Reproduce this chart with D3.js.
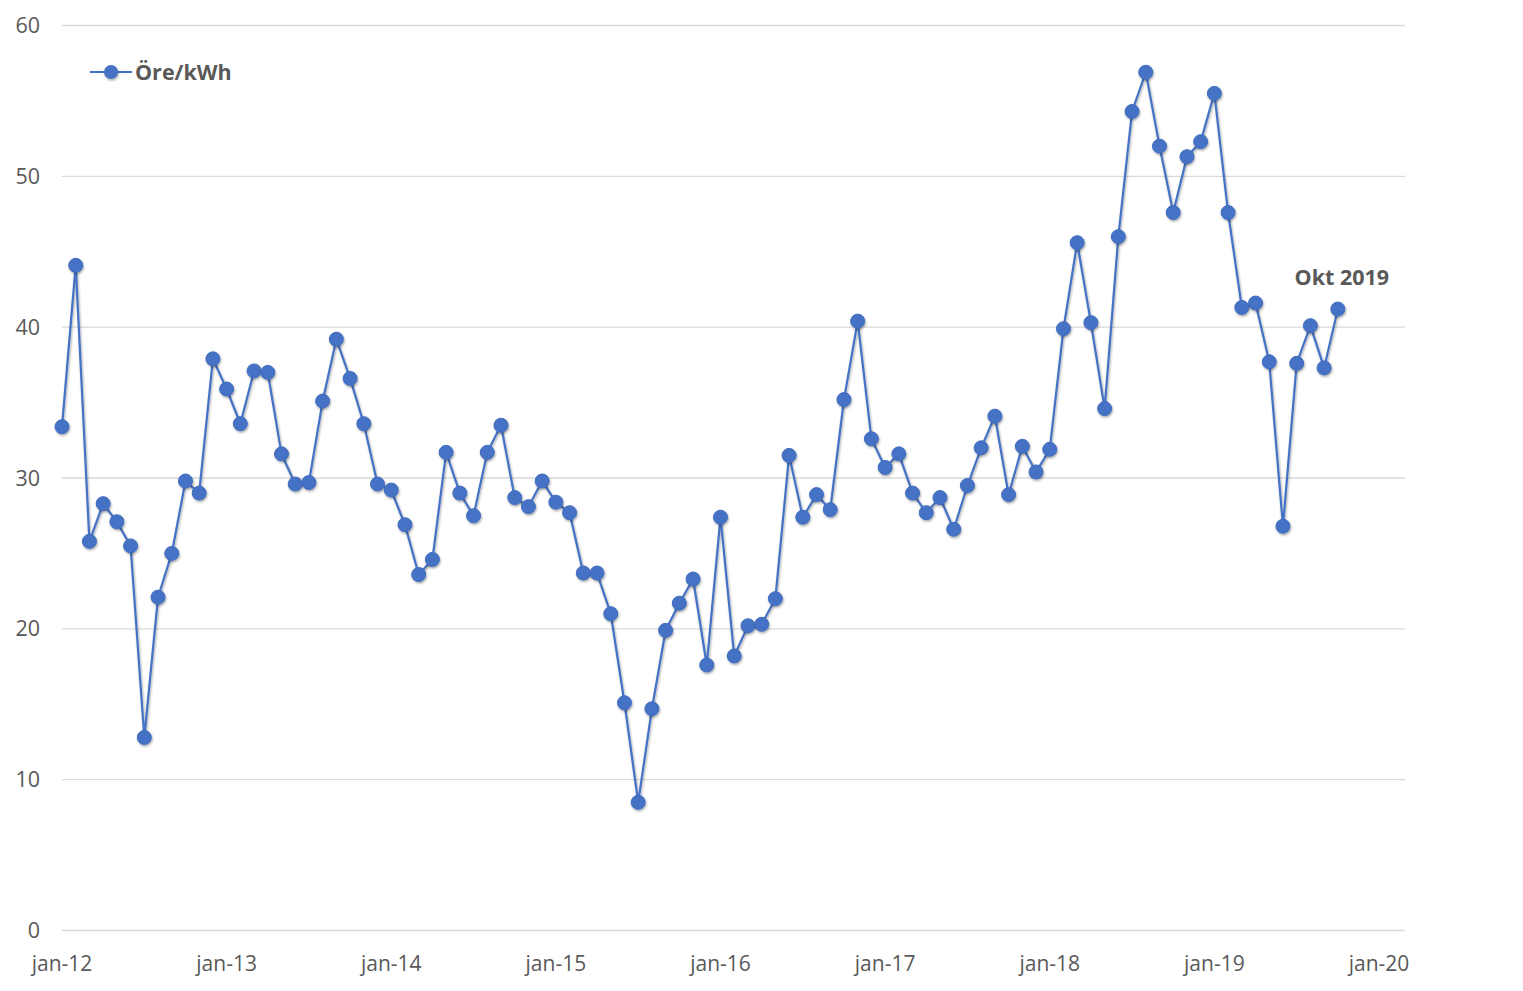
<!DOCTYPE html>
<html><head><meta charset="utf-8">
<script src="https://cdn.jsdelivr.net/npm/d3@7"></script>
<style>body{margin:0;background:#fff;} text{font-family:"Open Sans",Lato,sans-serif;}</style>
</head><body>
<svg id="c" width="1523" height="991"></svg>
<script>
const values = [
 33.4,44.1,25.8,28.3,27.1,25.5,12.8,22.1,25.0,29.8,29.0,37.9,
 35.9,33.6,37.1,37.0,31.6,29.6,29.7,35.1,39.2,36.6,33.6,29.6,
 29.2,26.9,23.6,24.6,31.7,29.0,27.5,31.7,33.5,28.7,28.1,29.8,
 28.4,27.7,23.7,23.7,21.0,15.1,8.5,14.7,19.9,21.7,23.3,17.6,
 27.4,18.2,20.2,20.3,22.0,31.5,27.4,28.9,27.9,35.2,40.4,32.6,
 30.7,31.6,29.0,27.7,28.7,26.6,29.5,32.0,34.1,28.9,32.1,30.4,
 31.9,39.9,45.6,40.3,34.6,46.0,54.3,56.9,52.0,47.6,51.3,52.3,
 55.5,47.6,41.3,41.6,37.7,26.8,37.6,40.1,37.3,41.2
];
const yTicks = [0,10,20,30,40,50,60];
const xTickLabels = ["jan-12","jan-13","jan-14","jan-15","jan-16","jan-17","jan-18","jan-19","jan-20"];
const seriesName = "Öre/kWh";
const annotation = "Okt 2019";

const data = values.map((v,i)=>({m:i, v}));
const svg = d3.select("#c");
const x = d3.scaleLinear().domain([0,96]).range([62,1379]);
const y = d3.scaleLinear().domain([0,60]).range([930.5,25.5]);
const grey = "#595959", blue = "#4472C4";

const defs = svg.append("defs");
const f = defs.append("filter").attr("id","sh").attr("x","-50%").attr("y","-50%").attr("width","200%").attr("height","200%");
f.append("feDropShadow").attr("dx",0.8).attr("dy",1.5).attr("stdDeviation",1.2).attr("flood-color","#000").attr("flood-opacity",0.35);

svg.append("g").selectAll("line").data(yTicks).join("line")
  .attr("x1",62).attr("x2",1405).attr("y1",d=>y(d)).attr("y2",d=>y(d))
  .attr("stroke","#d9d9d9").attr("stroke-width",1.3);
svg.append("g").selectAll("text").data(yTicks).join("text")
  .attr("x",40).attr("y",d=>y(d)).attr("dy","0.35em").attr("text-anchor","end")
  .attr("font-size",21.5).attr("fill",grey).text(d=>d);
svg.append("g").selectAll("text").data(xTickLabels).join("text")
  .attr("x",(d,i)=>x(i*12)).attr("y",964).attr("dy","0.35em").attr("text-anchor","middle")
  .attr("font-size",21).attr("fill",grey).text(d=>d);

const line = d3.line().x(d=>x(d.m)).y(d=>y(d.v));
svg.append("path").datum(data).attr("d",line).attr("fill","none")
  .attr("stroke",blue).attr("stroke-width",2.2).attr("filter","url(#sh)");
svg.append("g").selectAll("circle").data(data).join("circle")
  .attr("cx",d=>x(d.m)).attr("cy",d=>y(d.v)).attr("r",7)
  .attr("fill",blue).attr("stroke","#3f6cbf").attr("stroke-width",1).attr("filter","url(#sh)");

const last = data[data.length-1];
svg.append("text").attr("x",x(last.m)+4).attr("y",y(last.v)-32).attr("dy","0.35em")
  .attr("text-anchor","middle").attr("font-size",21.5).attr("font-weight","bold").attr("fill",grey).text(annotation);

const lg = svg.append("g");
lg.append("line").attr("x1",90).attr("x2",132).attr("y1",72).attr("y2",72).attr("stroke",blue).attr("stroke-width",2.2);
lg.append("circle").attr("cx",111).attr("cy",72).attr("r",7).attr("fill",blue).attr("filter","url(#sh)");
lg.append("text").attr("x",135).attr("y",72).attr("dy","0.35em").attr("font-size",21.5).attr("font-weight","bold").attr("fill",grey).text(seriesName);
</script>
</body></html>
